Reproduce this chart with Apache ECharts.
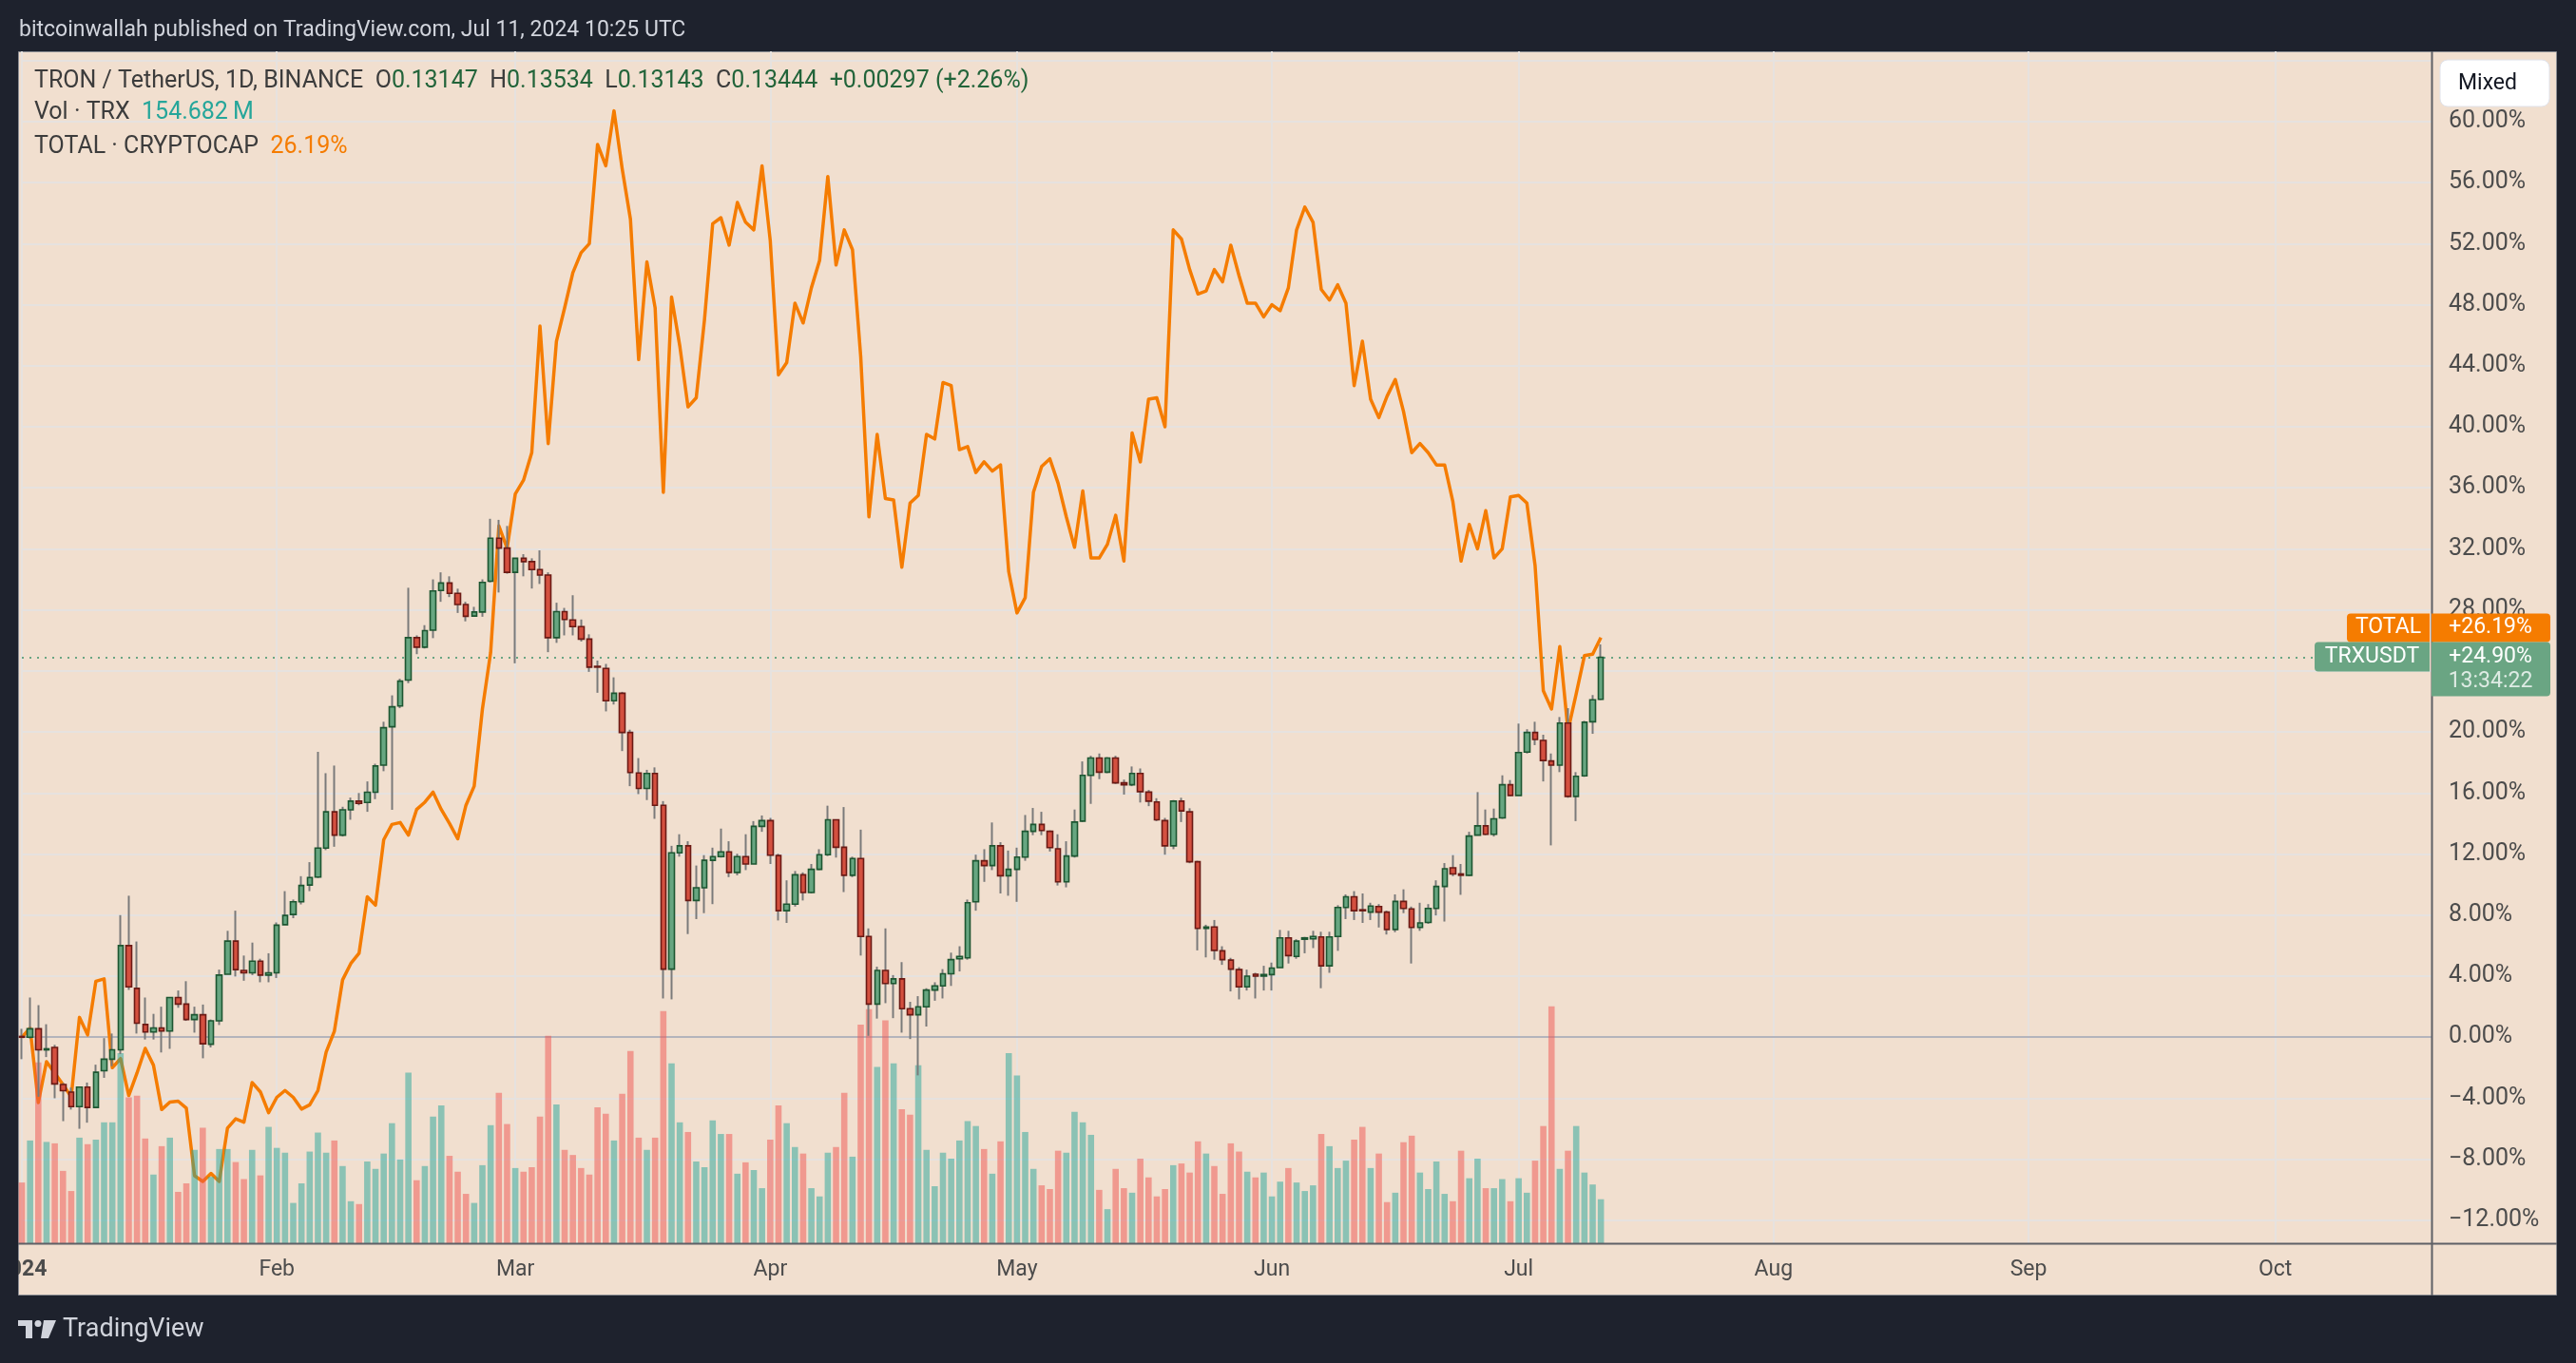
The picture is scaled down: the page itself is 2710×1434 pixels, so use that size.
<!DOCTYPE html>
<html>
<head>
<meta charset="utf-8">
<script src="https://cdn.jsdelivr.net/npm/echarts@6/dist/echarts.min.js"></script>
<style>
  html, body { margin: 0; padding: 0; background: #1e222d; }
  #chart { width: 2710px; height: 1434px; }
</style>
</head>
<body>
<div id="chart"></div>
<script>
// TRX/USDT daily candles, % change from the first bar close (percentage scale)
const trxOpen = [0.05,0,0.55,-0.83,-0.67,-3.1,-3.6,-4.55,-3.27,-4.6,
  -2.2,-1.44,-0.83,6.0,3.2,0.83,0.34,0.61,0.4,2.6,
  2.17,1.16,1.47,-0.46,1.07,4.13,6.3,4.37,4.22,4.98,
  4.07,4.22,7.37,8.04,8.87,9.97,10.49,12.39,14.77,13.24,
  14.9,15.47,15.38,16.05,17.83,20.34,21.7,23.4,26.18,25.56,
  26.67,29.27,29.76,29.08,28.35,27.6,27.86,29.88,32.7,32.05,
  30.46,31.38,31.16,30.64,30.28,26.18,27.89,27.34,26.9,26.09,
  24.3,24.16,22.05,22.54,19.97,17.31,16.3,17.28,15.2,4.46,
  12.08,12.54,8.96,9.79,11.59,11.83,12.14,10.8,11.83,11.35,
  13.82,14.19,11.9,8.29,8.72,10.64,9.48,11.0,11.96,14.25,
  12.45,10.61,11.71,6.6,2.17,4.37,3.52,3.82,1.87,1.47,
  1.99,3.09,3.36,4.16,5.14,5.2,8.87,11.56,11.25,12.54,
  10.58,11.0,11.8,13.49,13.94,13.49,12.35,10.18,11.87,14.16,
  17.16,18.29,17.37,18.29,16.67,16.54,17.28,16.06,15.41,14.19,
  12.54,15.47,14.77,11.5,7.13,7.22,5.66,5.05,4.43,3.3,
  4.13,4.0,4.1,4.56,6.51,5.29,6.42,6.45,6.57,4.68,
  6.6,8.5,9.2,8.35,8.2,8.56,8.2,7.06,8.9,8.41,
  7.19,7.52,8.44,9.88,11.1,10.7,10.61,13.24,13.85,13.3,
  14.37,16.54,15.84,18.68,19.97,19.45,18.1,17.83,20.58,15.78,
  17.13,20.67,22.14];
const trxHigh = [0.55,2.6,2.1,0.85,-0.5,-3.0,-3.3,-3.27,-2.97,-1.8,
  -0.06,0.24,8.0,9.27,6.27,2.6,1.53,2.0,2.6,3.06,
  3.67,2.0,2.14,1.16,4.43,6.97,8.29,5.35,6.2,5.14,
  5.5,7.52,9.57,9.02,10.55,11.47,18.7,17.3,17.8,15.1,
  15.7,16.0,16.76,17.92,20.67,22.4,23.49,29.45,26.33,27.0,
  30.0,30.46,30.2,29.39,28.53,28.2,30.0,33.97,33.9,33.5,
  31.38,31.65,31.38,31.9,30.46,28.47,28.13,28.96,27.37,26.4,
  24.68,24.46,23.58,22.63,20.15,18.29,17.52,17.68,15.47,12.54,
  13.3,12.84,11.25,11.93,12.42,13.67,12.84,12.02,13.3,14.16,
  14.53,14.37,12.02,10.28,10.89,10.8,11.35,12.32,15.17,14.25,
  15.08,11.83,13.6,7.13,4.62,7.13,4.07,4.92,2.32,2.69,
  3.21,3.6,4.46,5.54,5.96,9.02,11.96,12.32,14.07,12.78,
  12.23,12.42,14.56,15.02,14.77,13.55,13.3,12.84,14.92,18.07,
  18.44,18.59,18.35,18.44,16.88,17.74,17.61,16.2,15.66,14.37,
  15.54,15.69,15.0,11.56,7.37,7.68,5.96,5.2,4.59,4.43,
  4.22,4.68,4.89,7.03,6.97,6.42,6.57,6.97,6.91,6.91,
  8.65,9.36,9.57,9.42,8.81,8.72,8.29,9.36,9.69,8.56,
  8.81,8.72,10.28,11.41,11.93,11.35,13.46,16.06,14.92,14.98,
  17.16,16.85,20.55,20.18,20.67,19.82,18.59,20.98,21.56,17.37,
  20.73,22.42,25.74];
const trxLow = [-1.44,-0.1,-3.9,-1.3,-4.0,-5.5,-4.74,-6.0,-5.6,-4.6,
  -2.66,-1.9,-1.1,3.1,0.24,-0.15,-0.15,-1.0,-0.76,1.93,
  1.07,0.3,-1.38,-0.67,0.8,4.13,3.98,3.7,4.07,3.6,
  3.6,3.88,7.37,7.8,8.7,9.57,10.43,12.26,12.48,13.15,
  14.25,15.2,14.77,15.6,17.43,14.9,21.56,23.2,25.1,25.47,
  26.15,28.53,28.84,27.8,27.25,27.55,27.55,29.8,29.14,30.37,
  24.5,30.2,29.4,29.7,25.23,25.84,26.33,26.33,25.93,23.94,
  22.57,21.35,21.8,18.75,16.45,15.93,15.54,14.31,2.54,2.48,
  11.83,6.76,7.74,8.13,8.72,11.77,10.49,10.61,10.95,11.35,
  13.46,11.35,7.65,7.49,8.56,8.96,9.42,10.95,11.87,11.77,
  9.51,10.49,5.35,0.09,1.22,2.23,1.25,0.3,-0.12,-2.5,
  0.7,2.39,2.54,3.36,4.31,5.08,8.29,10.18,10.95,9.42,
  9.27,8.87,11.56,13.24,13.24,12.17,9.94,9.82,11.77,14.1,
  15.29,16.91,17.3,16.6,15.9,16.45,15.38,15.14,14.16,11.96,
  12.32,14.1,11.4,5.69,5.23,5.08,4.74,3.0,2.48,3.06,
  2.54,3.06,3.06,4.56,4.83,5.14,5.5,5.84,3.21,4.22,
  5.66,7.74,7.68,7.49,7.68,7.19,6.73,6.88,8.13,4.83,
  6.97,7.43,7.98,7.58,10.55,9.33,10.55,13.24,13.24,13.15,
  14.31,15.81,15.84,18.59,19.14,16.76,12.57,17.37,15.69,14.16,
  17.06,19.88,22.1];
const trxClose = [0,0.55,-0.83,-0.76,-3.06,-3.5,-4.55,-3.27,-4.6,-2.3,
  -1.44,-0.83,6.0,3.3,0.92,0.34,0.61,0.4,2.6,2.17,
  1.16,1.47,-0.43,1.07,4.07,6.3,4.43,4.22,4.98,4.07,
  4.22,7.34,7.98,8.87,9.94,10.46,12.39,14.77,13.24,14.9,
  15.47,15.32,16.05,17.77,20.28,21.65,23.33,26.18,25.56,26.64,
  29.24,29.76,29.08,28.35,27.58,27.86,29.8,32.7,32.05,30.46,
  31.38,31.16,30.64,30.28,26.18,27.89,27.37,26.9,26.09,24.25,
  24.25,22.05,22.54,19.97,17.34,16.3,17.28,15.2,4.46,12.08,
  12.54,8.96,9.79,11.59,11.83,12.14,10.8,11.83,11.35,13.82,
  14.19,11.93,8.29,8.72,10.64,9.48,11.0,11.96,14.25,12.45,
  10.61,11.71,6.6,2.17,4.37,3.52,3.82,1.87,1.47,1.99,
  3.09,3.36,4.16,5.08,5.29,8.81,11.56,11.25,12.54,10.58,
  11.0,11.8,13.49,13.94,13.55,12.42,10.18,11.87,14.1,17.16,
  18.29,17.37,18.29,16.67,16.54,17.28,16.09,15.47,14.25,12.54,
  15.47,14.83,11.5,7.13,7.22,5.69,5.08,4.46,3.3,4.0,
  4.0,4.1,4.53,6.51,5.35,6.3,6.51,6.6,4.68,6.57,
  8.5,9.2,8.29,8.29,8.59,8.2,7.06,8.9,8.44,7.19,
  7.49,8.44,9.88,11.04,10.7,10.61,13.18,13.85,13.3,14.31,
  16.54,15.84,18.65,19.97,19.51,18.13,17.83,20.58,15.78,17.1,
  20.64,22.11,24.9];
// TRX volume, millions
const trxVolume = [214,362,637,357,352,255,184,372,349,365,
  426,426,670,514,520,369,242,342,372,181,
  211,329,407,234,332,332,286,226,329,239,
  410,336,319,142,211,323,390,319,362,272,
  148,138,288,262,316,423,295,601,222,272,
  446,486,308,252,174,142,275,416,530,420,
  265,252,268,446,731,489,329,311,265,242,
  479,456,362,527,677,372,329,372,818,634,
  426,392,288,268,433,385,385,245,285,258,
  194,365,486,423,339,316,194,165,319,339,
  530,305,770,825,621,785,634,472,453,627,
  329,201,319,298,362,430,413,332,245,359,
  670,591,392,262,204,191,326,319,463,426,
  382,188,120,262,194,178,298,232,165,191,
  275,281,249,359,316,272,174,352,323,252,
  232,249,165,217,265,214,184,204,385,342,
  265,291,365,410,265,316,145,178,356,379,
  249,191,288,174,148,326,229,298,194,194,
  226,148,229,178,291,413,835,262,326,413,
  249,207,155];
// TOTAL (CRYPTOCAP) compared, % change
const totalPct = [0,0.6,-4.28,-1.6,-2.35,-3.1,-3.9,1.3,0.15,3.67,
  3.82,-2.0,-1.4,-3.82,-2.35,-0.73,-1.83,-4.74,-4.25,-4.19,
  -4.65,-9.08,-9.45,-8.93,-9.45,-5.96,-5.35,-5.57,-2.97,-3.58,
  -4.95,-3.94,-3.49,-3.94,-4.71,-4.43,-3.49,-0.98,0.4,3.76,
  4.83,5.5,9.2,8.65,12.94,13.94,14.07,13.24,14.92,15.4,
  16.06,14.92,14.0,13.0,15.2,16.45,21.5,25.2,33.5,32.05,
  35.6,36.5,38.3,46.6,38.9,45.6,47.8,50.1,51.4,52.0,
  58.5,57.1,60.7,56.9,53.6,44.4,50.8,47.8,35.7,48.5,
  45.3,41.3,41.9,47.0,53.3,53.7,51.9,54.7,53.4,52.9,
  57.1,52.2,43.4,44.2,48.1,46.8,49.1,50.9,56.4,50.6,
  52.9,51.6,44.6,34.1,39.5,35.3,35.2,30.8,35.0,35.5,
  39.5,39.2,42.9,42.7,38.5,38.7,37.0,37.7,37.1,37.5,
  30.5,27.8,28.8,35.7,37.4,37.9,36.3,34.1,32.1,35.8,
  31.4,31.4,32.3,34.2,31.2,39.6,37.7,41.8,41.9,40.0,
  52.9,52.3,50.3,48.7,48.9,50.3,49.5,51.9,49.9,48.1,
  48.1,47.2,48.0,47.6,49.1,52.9,54.4,53.4,49.0,48.3,
  49.3,48.1,42.7,45.6,41.8,40.6,42.0,43.1,41.0,38.3,
  38.9,38.3,37.5,37.5,35.1,31.2,33.6,32.0,34.5,31.4,
  32.0,35.4,35.5,35.0,30.9,22.7,21.5,25.6,20.1,22.5,
  25.0,25.1,26.19];

const monthLabels = ['2024','Feb','Mar','Apr','May','Jun','Jul','Aug','Sep','Oct','Nov','Dec'];
const yTicks = [-12,-8,-4,0,4,8,12,16,20,24,28,32,36,40,44,48,52,56,60,64];
const yLabelTicks = yTicks.filter(v => v <= 60);
const lastBar = { o: '0.13147', h: '0.13534', l: '0.13143', c: '0.13444', chg: '+0.00297 (+2.26%)' };
const lastVolText = '154.682\u2009M';
const countdown = '13:34:22';

// daily categories Jan 1 .. Oct 20, 2024
const days = [];
const t0 = Date.UTC(2024, 0, 1);
for (let i = 0; i < 294; i++) {
  days.push(new Date(t0 + i * 86400000).toISOString().slice(0, 10));
}

const FONT = 'Roboto, "Noto Sans", sans-serif';
const UP = '#67a681', DOWN = '#d4503f';
const UP_B = '#1d5631', DOWN_B = '#6b1a14';
const ORANGE = '#f57c00';
const TRX_GREEN = '#6aa583';
const PANEL = '#f1dfcf';
const GRID_C = '#e6e2df';
const AXIS_TXT = '#4c4c4c';

const lastClose = trxClose[trxClose.length - 1];
const lastTotal = totalPct[totalPct.length - 1];

const isMonthStart = (idx, val) => val.slice(8) === '01';
const fmtPct = v => (v < 0 ? '\u2212' : '') + Math.abs(v).toFixed(2) + '%';
const fmtSigned = v => (v >= 0 ? '+' : '\u2212') + Math.abs(v).toFixed(2) + '%';

const wickData = trxOpen.map((o, i) => [o, trxClose[i], trxLow[i], trxHigh[i]]);
const bodyData = trxOpen.map((o, i) => [o, trxClose[i], Math.min(o, trxClose[i]), Math.max(o, trxClose[i])]);
const volData = trxVolume.map((v, i) => ({
  value: v,
  itemStyle: { color: trxClose[i] >= trxOpen[i] ? 'rgba(38,166,154,0.5)' : 'rgba(239,83,80,0.5)' }
}));

const chart = echarts.init(document.getElementById('chart'), null, { width: 2710, height: 1434 });

const option = {
  animation: false,
  backgroundColor: '#1e222d',
  grid: { left: 23, right: 152, top: 54, bottom: 126, containLabel: false, outerBoundsMode: 'none' },
  xAxis: {
    type: 'category',
    data: days,
    boundaryGap: false,
    axisLine: { show: false },
    axisTick: { show: false },
    axisLabel: {
      interval: isMonthStart,
      formatter: v => {
        const m = +v.slice(5, 7);
        return m === 1 ? '{y|' + monthLabels[0] + '}' : monthLabels[m - 1];
      },
      color: AXIS_TXT, fontSize: 23, fontFamily: FONT, margin: 17,
      rich: { y: { fontWeight: 'bold', fontSize: 23, fontFamily: FONT, color: AXIS_TXT } }
    },
    splitLine: { show: true, interval: isMonthStart, lineStyle: { color: GRID_C, width: 2 } }
  },
  yAxis: [
    {
      type: 'value', position: 'right', min: -13.5, max: 64.6,
      axisLine: { show: false }, axisTick: { show: false }, splitLine: { show: false },
      axisLabel: {
        customValues: yLabelTicks, formatter: fmtPct,
        color: AXIS_TXT, fontSize: 25, fontFamily: FONT, margin: 18, align: 'left'
      }
    },
    { type: 'value', min: 0, max: 4200, show: false, splitLine: { show: false } }
  ],
  series: [
    {
      name: 'grid', type: 'line', data: [], silent: true, z: 1,
      markLine: {
        silent: true, symbol: 'none', z: 1, animation: false,
        label: { show: false }, emphasis: { disabled: true },
        data: yTicks.filter(v => v !== 0).map(v => ({ yAxis: v, lineStyle: { color: GRID_C, width: 2, type: 'solid' } }))
          .concat([
            { yAxis: 0, lineStyle: { color: '#b4b4bc', width: 2, type: 'solid' } },
            { yAxis: lastClose, lineStyle: { color: TRX_GREEN, width: 2, type: [2, 6] } }
          ])
      }
    },
    {
      name: 'TOTAL', type: 'line', data: totalPct, showSymbol: false, z: 2,
      lineStyle: { color: ORANGE, width: 3.5, join: 'round' }
    },
    {
      name: 'Vol', type: 'bar', data: volData, yAxisIndex: 1, barWidth: '76%', z: 3, clip: false
    },
    {
      name: 'wick', type: 'candlestick', data: wickData, barWidth: 1, z: 4, clip: false, silent: true,
      itemStyle: { color: '#7a7a7a', color0: '#7a7a7a', borderColor: '#7a7a7a', borderColor0: '#7a7a7a', borderWidth: 2 }
    },
    {
      name: 'TRXUSDT', type: 'candlestick', data: bodyData, barWidth: 6, z: 5, clip: false, silent: true,
      itemStyle: { color: UP, color0: DOWN, borderColor: UP_B, borderColor0: DOWN_B, borderWidth: 1.6 }
    }
  ]
};
chart.setOption(option);

// ---- static frame, texts and the price labels ----
const txt = (id, x, y, text, fill, size, extra) => ({
  type: 'text', id, x, y, z: 100,
  style: Object.assign({ text, fill, font: size + 'px ' + FONT, verticalAlign: 'middle', align: 'left' }, extra || {})
});
const LEG = 25;

const yT = chart.convertToPixel({ yAxisIndex: 0 }, lastClose);
const yTot = Math.min(chart.convertToPixel({ yAxisIndex: 0 }, lastTotal), yT - 31);

const graphics = [
  { type: 'rect', id: 'panel', z: -100, shape: { x: 19.5, y: 54.5, width: 2670, height: 1308 }, style: { fill: PANEL, stroke: '#8c8e94', lineWidth: 1 } },
  { type: 'rect', id: 'leftMask', z: 100, shape: { x: 0, y: 54, width: 19, height: 1310 }, style: { fill: '#1e222d' } },
  { type: 'line', id: 'sep', z: 100, shape: { x1: 2558.5, y1: 54, x2: 2558.5, y2: 1363 }, style: { stroke: '#5f6066', lineWidth: 2 } },
  { type: 'line', id: 'timeLine', z: 100, shape: { x1: 19, y1: 1308.5, x2: 2690, y2: 1308.5 }, style: { stroke: '#5f6066', lineWidth: 2 } },
  { type: 'rect', id: 'btn', z: 100, shape: { x: 2567, y: 63, width: 115, height: 49, r: 8 }, style: { fill: '#ffffff', stroke: '#e0e3eb', lineWidth: 1 } },
  txt('btnTxt', 2586, 88, 'Mixed', '#131722', 23),
  txt('header', 20, 32, 'bitcoinwallah published on TradingView.com, Jul 11, 2024 10:25 UTC', '#d1d4dc', 23),
  txt('leg1', 36, 86,
    '{n|TRON / TetherUS, 1D, BINANCE}  {k|O}{v|' + lastBar.o + '}  {k|H}{v|' + lastBar.h + '}  {k|L}{v|' + lastBar.l + '}  {k|C}{v|' + lastBar.c + '}  {v|' + lastBar.chg + '}',
    '#3c3c3c', LEG, { rich: {
      n: { fill: '#3c3c3c', font: LEG + 'px ' + FONT },
      k: { fill: '#3c3c3c', font: LEG + 'px ' + FONT },
      v: { fill: '#22643a', font: LEG + 'px ' + FONT }
    } }),
  txt('leg2', 36, 119, '{n|Vol \u00b7 TRX}  {v|' + lastVolText + '}', '#3c3c3c', LEG, { rich: {
      n: { fill: '#3c3c3c', font: LEG + 'px ' + FONT },
      v: { fill: '#26a69a', font: LEG + 'px ' + FONT }
    } }),
  txt('leg3', 36, 155, '{n|TOTAL \u00b7 CRYPTOCAP}  {v|' + lastTotal.toFixed(2) + '%}', '#3c3c3c', LEG, { rich: {
      n: { fill: '#3c3c3c', font: LEG + 'px ' + FONT },
      v: { fill: ORANGE, font: LEG + 'px ' + FONT }
    } }),
  // TradingView logo
  { type: 'rect', id: 'lg1', z: 100, shape: { x: 19, y: 1389, width: 15, height: 6 }, style: { fill: '#d1d4dc' } },
  { type: 'rect', id: 'lg2', z: 100, shape: { x: 27, y: 1389, width: 7, height: 19 }, style: { fill: '#d1d4dc' } },
  { type: 'circle', id: 'lg3', z: 100, shape: { cx: 40, cy: 1392.5, r: 3.5 }, style: { fill: '#d1d4dc' } },
  { type: 'polygon', id: 'lg4', z: 100, shape: { points: [[46, 1389], [59, 1389], [51, 1408], [43, 1408]] }, style: { fill: '#d1d4dc' } },
  txt('logoTxt', 66, 1399, 'TradingView', '#d1d4dc', 27),
  // TOTAL label
  { type: 'rect', id: 'totL', z: 110, shape: { x: 2469, y: yTot - 15, width: 87, height: 30, r: [4, 0, 0, 4] }, style: { fill: ORANGE } },
  txt('totLt', 2512.5, yTot, 'TOTAL', '#ffffff', 23, { align: 'center' }),
  { type: 'rect', id: 'totR', z: 110, shape: { x: 2558, y: yTot - 15, width: 125, height: 30, r: [0, 4, 4, 0] }, style: { fill: ORANGE } },
  txt('totRt', 2620, yTot, fmtSigned(lastTotal), '#ffffff', 23, { align: 'center' }),
  // TRXUSDT label
  { type: 'rect', id: 'trxL', z: 110, shape: { x: 2435, y: yT - 16, width: 121, height: 31, r: [4, 0, 0, 4] }, style: { fill: TRX_GREEN } },
  txt('trxLt', 2495.5, yT, 'TRXUSDT', '#ffffff', 23, { align: 'center' }),
  { type: 'rect', id: 'trxR', z: 110, shape: { x: 2558, y: yT - 16, width: 125, height: 57, r: [0, 4, 4, 0] }, style: { fill: TRX_GREEN } },
  txt('trxRt', 2620, yT, fmtSigned(lastClose), '#ffffff', 23, { align: 'center' }),
  txt('trxRc', 2620, yT + 26, countdown, 'rgba(255,255,255,0.78)', 23, { align: 'center' })
];
graphics.forEach(g => { if (g.type === 'text') g.z = g.id.startsWith('tot') || g.id.startsWith('trx') ? 111 : 100; });
chart.setOption({ graphic: graphics });
</script>
</body>
</html>
